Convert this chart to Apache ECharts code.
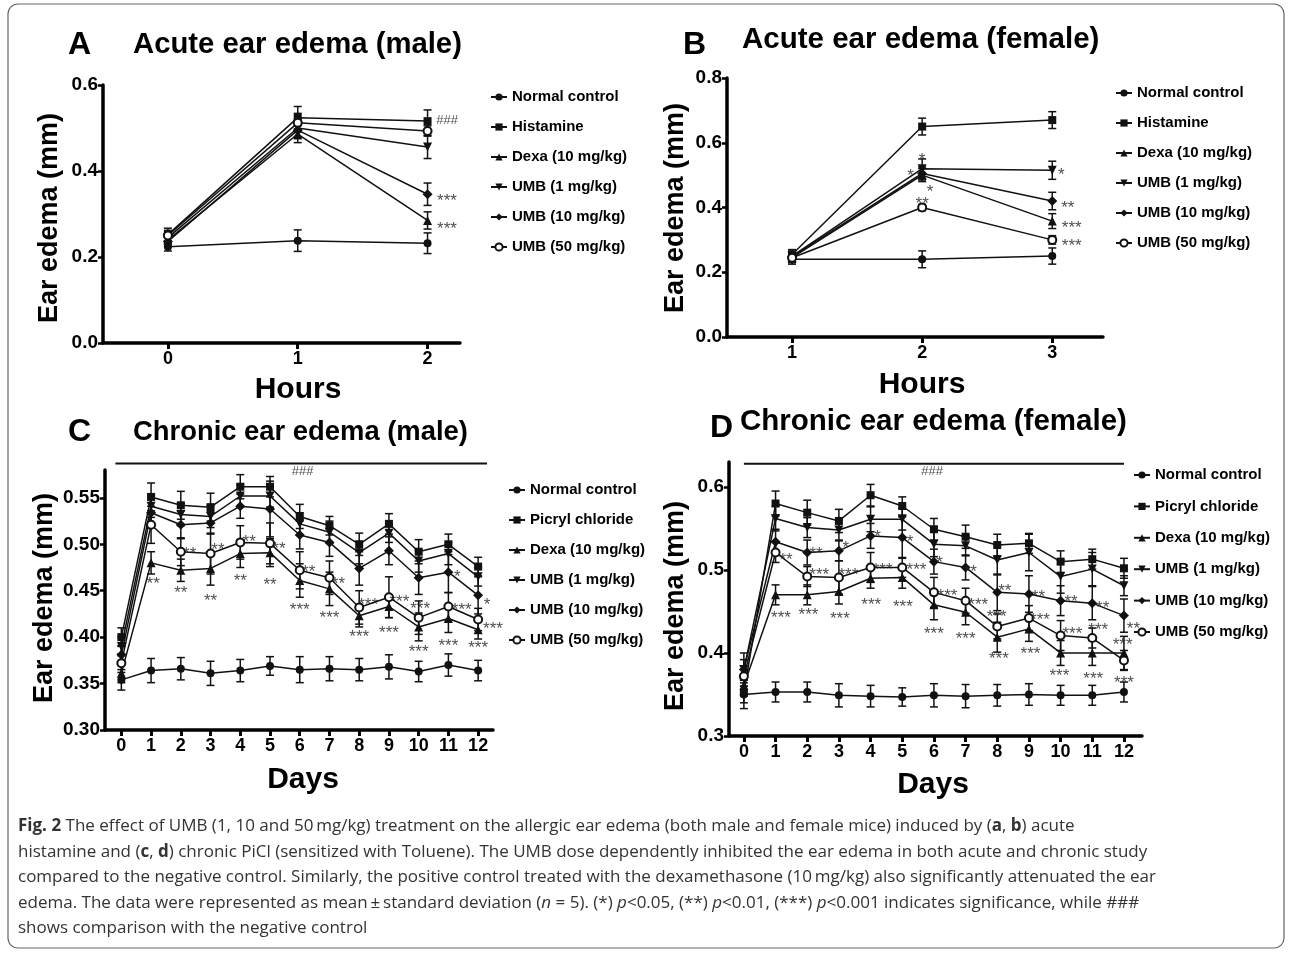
<!DOCTYPE html>
<html>
<head>
<meta charset="utf-8">
<title>Ear edema</title>
<script src="https://cdn.jsdelivr.net/npm/echarts@6/dist/echarts.min.js"></script>
<style>
html, body { margin: 0; padding: 0; background: #fff; }
#main { width: 1292px; height: 956px; }
</style>
</head>
<body>
<div id="main"></div>
<script>
// series names
var namesAcute = ['Normal control', 'Histamine', 'Dexa (10 mg/kg)', 'UMB (1 mg/kg)', 'UMB (10 mg/kg)', 'UMB (50 mg/kg)'];
var namesChronic = ['Normal control', 'Picryl chloride', 'Dexa (10 mg/kg)', 'UMB (1 mg/kg)', 'UMB (10 mg/kg)', 'UMB (50 mg/kg)'];

// A - acute, male
var hoursA = [0, 1, 2];
var normalA = [0.224, 0.238, 0.232];
var histA = [0.252, 0.524, 0.516];
var dexaA = [0.240, 0.486, 0.285];
var umb1A = [0.245, 0.500, 0.456];
var umb10A = [0.236, 0.495, 0.346];
var umb50A = [0.250, 0.512, 0.493];
var normalAErr = [0.010, 0.025, 0.024];
var histAErr = [0.015, 0.026, 0.026];
var dexaAErr = [0.012, 0.020, 0.020];
var umb1AErr = [0.012, 0.020, 0.027];
var umb10AErr = [0.012, 0.020, 0.026];
var umb50AErr = [0.012, 0.022, 0.012];
var starsA = [[2.15, 0.517, '###'], [2.15, 0.342, '***'], [2.15, 0.277, '***']];

// B - acute, female
var hoursB = [1, 2, 3];
var normalB = [0.240, 0.240, 0.250];
var histB = [0.255, 0.650, 0.670];
var dexaB = [0.245, 0.500, 0.358];
var umb1B = [0.250, 0.520, 0.515];
var umb10B = [0.248, 0.505, 0.420];
var umb50B = [0.245, 0.400, 0.300];
var normalBErr = [0.015, 0.026, 0.025];
var histBErr = [0.015, 0.026, 0.026];
var dexaBErr = [0.015, 0.020, 0.023];
var umb1BErr = [0.015, 0.030, 0.028];
var umb10BErr = [0.015, 0.020, 0.027];
var umb50BErr = [0.015, 0.010, 0.013];
var starsB = [[2.0, 0.562, '*'], [1.91, 0.513, '*'], [2.06, 0.463, '*'], [2.0, 0.426, '**'],
    [3.07, 0.514, '*'], [3.12, 0.414, '**'], [3.15, 0.352, '***'], [3.15, 0.295, '***']];

// C - chronic, male
var daysC = [0, 1, 2, 3, 4, 5, 6, 7, 8, 9, 10, 11, 12];
var normalC = [0.354, 0.364, 0.366, 0.361, 0.364, 0.369, 0.365, 0.366, 0.365, 0.368, 0.363, 0.370, 0.364];
var picrylC = [0.400, 0.551, 0.542, 0.540, 0.562, 0.562, 0.530, 0.520, 0.500, 0.522, 0.492, 0.500, 0.476];
var dexaC = [0.361, 0.480, 0.472, 0.474, 0.490, 0.491, 0.461, 0.452, 0.423, 0.433, 0.411, 0.420, 0.408];
var umb1C = [0.390, 0.541, 0.532, 0.530, 0.552, 0.552, 0.522, 0.513, 0.491, 0.512, 0.482, 0.490, 0.465];
var umb10C = [0.381, 0.534, 0.521, 0.523, 0.541, 0.538, 0.510, 0.502, 0.474, 0.493, 0.464, 0.470, 0.445];
var umb50C = [0.372, 0.521, 0.492, 0.490, 0.502, 0.501, 0.472, 0.464, 0.432, 0.443, 0.421, 0.433, 0.419];
var normalCErr = [0.011, 0.013, 0.012, 0.013, 0.012, 0.010, 0.014, 0.013, 0.012, 0.013, 0.011, 0.012, 0.011];
var picrylCErr = [0.010, 0.015, 0.015, 0.015, 0.013, 0.011, 0.013, 0.010, 0.012, 0.011, 0.013, 0.011, 0.010];
var dexaCErr = [0.010, 0.012, 0.012, 0.018, 0.015, 0.015, 0.018, 0.018, 0.012, 0.012, 0.015, 0.015, 0.010];
var umb1CErr = [0.010, 0.012, 0.012, 0.012, 0.012, 0.012, 0.012, 0.012, 0.012, 0.010, 0.012, 0.012, 0.010];
var umb10CErr = [0.010, 0.015, 0.015, 0.012, 0.013, 0.030, 0.015, 0.015, 0.018, 0.015, 0.018, 0.022, 0.020];
var umb50CErr = [0.010, 0.020, 0.015, 0.022, 0.018, 0.022, 0.020, 0.018, 0.018, 0.022, 0.018, 0.015, 0.012];
var starsC = [[1.07, 0.462, '**'], [2.3, 0.495, '**'], [2, 0.453, '**'], [3.25, 0.499, '**'], [3, 0.444, '**'],
    [4.3, 0.507, '**'], [4, 0.465, '**'], [5.3, 0.4995, '**'], [5, 0.461, '**'], [6.3, 0.475, '**'], [6, 0.434, '***'],
    [7.3, 0.462, '**'], [7, 0.426, '***'], [8.3, 0.440, '***'], [8, 0.405, '***'], [9.35, 0.443, '***'], [9, 0.409, '***'],
    [10.05, 0.435, '***'], [10, 0.389, '***'], [11.45, 0.434, '***'], [11, 0.396, '***'], [11.3, 0.470, '*'],
    [12.5, 0.414, '***'], [12, 0.393, '***'], [12.3, 0.440, '*'], [6.1, 0.578, '###']];
var bracketC = [-0.2, 12.3, 0.587];

// D - chronic, female
var daysD = [0, 1, 2, 3, 4, 5, 6, 7, 8, 9, 10, 11, 12];
var normalD = [0.350, 0.353, 0.353, 0.349, 0.348, 0.347, 0.349, 0.348, 0.349, 0.350, 0.349, 0.349, 0.353];
var picrylD = [0.352, 0.580, 0.569, 0.559, 0.590, 0.577, 0.549, 0.540, 0.530, 0.532, 0.510, 0.513, 0.502];
var dexaD = [0.361, 0.470, 0.470, 0.474, 0.490, 0.491, 0.458, 0.449, 0.419, 0.429, 0.400, 0.400, 0.400];
var umb1D = [0.380, 0.562, 0.551, 0.548, 0.561, 0.561, 0.531, 0.529, 0.512, 0.521, 0.492, 0.501, 0.481];
var umb10D = [0.380, 0.534, 0.521, 0.523, 0.541, 0.539, 0.510, 0.503, 0.473, 0.471, 0.463, 0.460, 0.445];
var umb50D = [0.372, 0.521, 0.492, 0.491, 0.503, 0.503, 0.473, 0.463, 0.432, 0.442, 0.421, 0.418, 0.391];
var normalDErr = [0.017, 0.012, 0.012, 0.014, 0.013, 0.011, 0.014, 0.014, 0.013, 0.013, 0.012, 0.012, 0.012];
var picrylDErr = [0.012, 0.015, 0.015, 0.014, 0.013, 0.011, 0.013, 0.014, 0.013, 0.012, 0.013, 0.012, 0.012];
var dexaDErr = [0.012, 0.012, 0.012, 0.015, 0.012, 0.013, 0.018, 0.015, 0.018, 0.015, 0.015, 0.015, 0.020];
var umb1DErr = [0.020, 0.015, 0.012, 0.012, 0.015, 0.013, 0.015, 0.012, 0.018, 0.022, 0.020, 0.020, 0.012];
var umb10DErr = [0.012, 0.015, 0.015, 0.012, 0.015, 0.025, 0.015, 0.015, 0.022, 0.022, 0.018, 0.020, 0.020];
var umb50DErr = [0.012, 0.012, 0.012, 0.020, 0.018, 0.012, 0.018, 0.015, 0.015, 0.015, 0.018, 0.012, 0.012];
var starsD = [[1.33, 0.518, '**'], [1.17, 0.448, '***'], [2.28, 0.525, '**'], [2.38, 0.499, '***'], [2.04, 0.451, '***'],
    [3.22, 0.532, '*'], [3.3, 0.500, '***'], [3.03, 0.446, '***'], [4.22, 0.545, '*'], [4.38, 0.506, '***'], [4.02, 0.464, '***'],
    [5.25, 0.539, '*'], [5.45, 0.505, '***'], [5.02, 0.461, '***'], [6.18, 0.514, '*'], [6.43, 0.474, '***'], [6.0, 0.429, '***'],
    [7.15, 0.503, '**'], [7.4, 0.464, '***'], [7.0, 0.423, '***'], [8.24, 0.480, '**'], [7.98, 0.449, '***'], [8.05, 0.398, '***'],
    [9.3, 0.473, '**'], [9.35, 0.445, '***'], [9.05, 0.404, '***'], [10.33, 0.467, '**'], [10.37, 0.428, '***'], [9.96, 0.378, '***'],
    [11.33, 0.460, '**'], [11.19, 0.433, '***'], [11.03, 0.374, '***'], [12.3, 0.435, '**'], [11.96, 0.415, '***'], [12.0, 0.370, '***'],
    [5.94, 0.619, '###']];
var bracketD = [0, 12, 0.628];

// axis tick values
var yTicksA = [0, 0.2, 0.4, 0.6];
var yTicksB = [0, 0.2, 0.4, 0.6, 0.8];
var yTicksC = [0.30, 0.35, 0.40, 0.45, 0.50, 0.55];
var yTicksD = [0.3, 0.4, 0.5, 0.6];

var font = "'Liberation Sans', Arial, sans-serif";
var symbols = ['circle', 'rect', 'triangle', 'triangle', 'diamond', 'emptyCircle'];
var rotates = [0, 0, 0, 180, 0, 0];
var sizes = [8, 8, 9, 9, 10, 8];

var chart = echarts.init(document.getElementById('main'));

function errSeries(gi, xs, ys, es) {
    return {
        type: 'custom', xAxisIndex: gi, yAxisIndex: gi, silent: true, z: 2,
        encode: {x: 0, y: 1},
        data: xs.map(function (x, i) { return [x, ys[i], es[i]]; }),
        renderItem: function (params, api) {
            var x = api.value(0), y = api.value(1), e = api.value(2);
            var hi = api.coord([x, y + e]), lo = api.coord([x, y - e]);
            var st = {stroke: '#111', lineWidth: 1.5};
            return {type: 'group', children: [
                {type: 'line', shape: {x1: hi[0], y1: hi[1], x2: lo[0], y2: lo[1]}, style: st},
                {type: 'line', shape: {x1: hi[0] - 4, y1: hi[1], x2: hi[0] + 4, y2: hi[1]}, style: st},
                {type: 'line', shape: {x1: lo[0] - 4, y1: lo[1], x2: lo[0] + 4, y2: lo[1]}, style: st}
            ]};
        }
    };
}

function panelSeries(gi, labels, xs, ys, es) {
    var out = [];
    ys.forEach(function (vals, k) {
        out.push(errSeries(gi, xs, vals, es[k]));
        out.push({
            type: 'line', name: labels[k], xAxisIndex: gi, yAxisIndex: gi, z: 3,
            data: xs.map(function (x, i) { return [x, vals[i]]; }),
            symbol: symbols[k], symbolRotate: rotates[k], symbolSize: sizes[k],
            showAllSymbol: true, animation: false,
            lineStyle: {color: '#111', width: 1.5},
            itemStyle: {color: '#111', borderColor: '#111', borderWidth: k === 5 ? 1.5 : 0}
        });
    });
    return out;
}

function starSeries(gi, list) {
    return {
        type: 'scatter', xAxisIndex: gi, yAxisIndex: gi, symbolSize: 0, silent: true, clip: false, z: 5,
        data: list.map(function (s) {
            var star = s[2].charAt(0) === '*';
            return {value: [s[0], s[1]], label: {
                show: true, position: 'inside', formatter: s[2],
                offset: [0, star ? 5 : 0],
                fontSize: star ? 17 : 13, color: '#222', fontFamily: font
            }};
        })
    };
}

function bracketSeries(gi, b) {
    return {
        type: 'line', xAxisIndex: gi, yAxisIndex: gi, symbol: 'none', clip: false, silent: true,
        data: [[b[0], b[2]], [b[1], b[2]]],
        lineStyle: {color: '#111', width: 2}
    };
}

function xAx(gi, min, max, ticks) {
    return {
        type: 'value', gridIndex: gi, min: min, max: max,
        axisLine: {onZero: false, lineStyle: {color: '#000', width: 3.5}},
        axisTick: {customValues: ticks, length: 6, lineStyle: {color: '#000', width: 3}},
        axisLabel: {customValues: ticks, margin: 7, fontSize: 18, fontWeight: 'bold', color: '#000', fontFamily: font},
        splitLine: {show: false}
    };
}

function yAx(gi, min, max, ticks, digits) {
    return {
        type: 'value', gridIndex: gi, min: min, max: max,
        axisLine: {onZero: false, lineStyle: {color: '#000', width: 3.5}},
        axisTick: {customValues: ticks, length: 5, lineStyle: {color: '#000', width: 2.5}},
        axisLabel: {customValues: ticks, margin: 5, fontSize: 19, fontWeight: 'bold', color: '#000', fontFamily: font,
            formatter: function (v) { return v.toFixed(digits); }},
        splitLine: {show: false}
    };
}

function legendAt(left, top, data, gap) {
    return {
        orient: 'vertical', left: left, top: top, data: data, itemGap: gap,
        itemWidth: 16, itemHeight: 9, selectedMode: false,
        textStyle: {fontSize: 15, fontWeight: 'bold', color: '#000', fontFamily: font, lineHeight: 16}
    };
}

function txt(x, y, s, size, rot) {
    return {
        type: 'text', x: x, y: y, rotation: rot || 0, silent: true,
        style: {text: s, fontSize: size, fontWeight: 'bold', fontFamily: font, fill: '#000',
            align: rot ? 'center' : 'left', verticalAlign: 'middle'}
    };
}

function ctxt(x, y, s, size) {
    var t = txt(x, y, s, size);
    t.style.align = 'center';
    return t;
}

var capFont = {fontSize: 17, fontFamily: "'Open Sans'", fill: '#333'};
var captionLines = [
    '{b|Fig. 2} The effect of UMB (1, 10 and 50\u2009mg/kg) treatment on the allergic ear edema (both male and female mice) induced by ({b|a}, {b|b}) acute',
    'histamine and ({b|c}, {b|d}) chronic PiCl (sensitized with Toluene). The UMB dose dependently inhibited the ear edema in both acute and chronic study',
    'compared to the negative control. Similarly, the positive control treated with the dexamethasone (10\u2009mg/kg) also significantly attenuated the ear',
    'edema. The data were represented as mean\u2009\u00b1\u2009standard deviation ({i|n} = 5). (*) {i|p}<0.05, (**) {i|p}<0.01, (***) {i|p}<0.001 indicates significance, while ###',
    'shows comparison with the negative control'
];
var captionY = [826, 852, 877, 903, 928];

var graphics = [
    {type: 'rect', silent: true, shape: {x: 8, y: 4, width: 1276, height: 944, r: 10},
        style: {fill: 'none', stroke: '#666', lineWidth: 1.2}},
    txt(68, 45, 'A', 32), txt(133, 45, 'Acute ear edema (male)', 29.3),
    txt(683, 45, 'B', 32), txt(742, 40, 'Acute ear edema (female)', 29.5),
    txt(68, 432, 'C', 32), txt(133, 432, 'Chronic ear edema (male)', 27.4),
    txt(710, 428, 'D', 32), txt(740, 422, 'Chronic ear edema (female)', 29.5),
    ctxt(298, 390, 'Hours', 30), ctxt(922, 385, 'Hours', 30),
    ctxt(303, 780, 'Days', 30), ctxt(933, 785, 'Days', 30),
    txt(50, 218, 'Ear edema (mm)', 27, Math.PI / 2), txt(676, 208, 'Ear edema (mm)', 27, Math.PI / 2),
    txt(45, 598, 'Ear edema (mm)', 27, Math.PI / 2), txt(676, 606, 'Ear edema (mm)', 27, Math.PI / 2)
];
captionLines.forEach(function (line, i) {
    graphics.push({
        type: 'text', x: 18, y: captionY[i], silent: true,
        style: {
            text: line, fontSize: capFont.fontSize, fontFamily: capFont.fontFamily, fill: capFont.fill,
            verticalAlign: 'middle',
            rich: {
                b: {fontSize: capFont.fontSize, fontFamily: capFont.fontFamily, fill: capFont.fill, fontWeight: 'bold'},
                i: {fontSize: capFont.fontSize, fontFamily: capFont.fontFamily, fill: capFont.fill, fontStyle: 'italic'}
            }
        }
    });
});

var series = [].concat(
    panelSeries(0, namesAcute, hoursA, [normalA, histA, dexaA, umb1A, umb10A, umb50A],
        [normalAErr, histAErr, dexaAErr, umb1AErr, umb10AErr, umb50AErr]),
    panelSeries(1, namesAcute, hoursB, [normalB, histB, dexaB, umb1B, umb10B, umb50B],
        [normalBErr, histBErr, dexaBErr, umb1BErr, umb10BErr, umb50BErr]),
    panelSeries(2, namesChronic, daysC, [normalC, picrylC, dexaC, umb1C, umb10C, umb50C],
        [normalCErr, picrylCErr, dexaCErr, umb1CErr, umb10CErr, umb50CErr]),
    panelSeries(3, namesChronic, daysD, [normalD, picrylD, dexaD, umb1D, umb10D, umb50D],
        [normalDErr, picrylDErr, dexaDErr, umb1DErr, umb10DErr, umb50DErr]),
    [starSeries(0, starsA), starSeries(1, starsB), starSeries(2, starsC), starSeries(3, starsD),
        bracketSeries(2, bracketC), bracketSeries(3, bracketD)]
);

var option = {
    backgroundColor: '#fff',
    animation: false,
    grid: [
        {left: 103, top: 85, width: 357, height: 258, outerBoundsMode: 'none'},
        {left: 727, top: 78, width: 376, height: 259, outerBoundsMode: 'none'},
        {left: 105, top: 470, width: 388, height: 260, outerBoundsMode: 'none'},
        {left: 729, top: 462, width: 413, height: 274, outerBoundsMode: 'none'}
    ],
    xAxis: [
        xAx(0, -0.5, 2.25, hoursA),
        xAx(1, 0.5, 3.39, hoursB),
        xAx(2, -0.55, 12.5, daysC),
        xAx(3, -0.47, 12.57, daysD)
    ],
    yAxis: [
        yAx(0, 0, 0.6, yTicksA, 1),
        yAx(1, 0, 0.8, yTicksB, 1),
        yAx(2, 0.3, 0.58, yTicksC, 2),
        yAx(3, 0.3, 0.63, yTicksD, 1)
    ],
    legend: [
        legendAt(485, 84, namesAcute, 14),
        legendAt(1110, 80, namesAcute, 14),
        legendAt(503, 477, namesChronic, 14),
        legendAt(1128, 462, namesChronic, 15.4)
    ],
    graphic: graphics,
    series: series
};
chart.setOption(option);
</script>
</body>
</html>
